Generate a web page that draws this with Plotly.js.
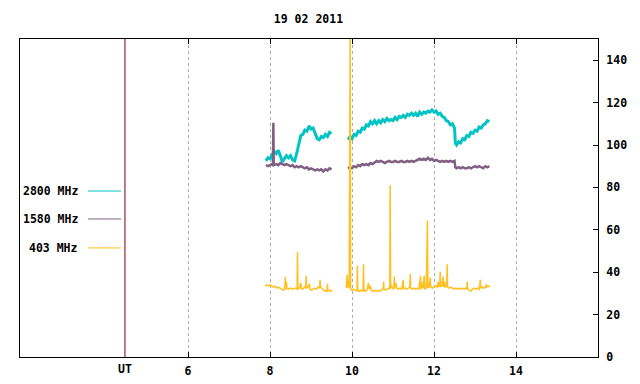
<!DOCTYPE html>
<html>
<head>
<meta charset="utf-8">
<script src="https://cdn.plot.ly/plotly-3.0.1.min.js"></script>
<style>html,body{margin:0;padding:0;background:#fff;}#chart{width:640px;height:384px;}</style>
</head>
<body>
<div id="chart"></div>
<script>
// ---- data (hours UT, flux) ----
const chartTitle = "19 02 2011";
const seriesNames = ["2800 MHz", "1580 MHz", "403 MHz"];
const seriesColors = ["#00c4c4", "#806080", "#ffc020"];
const xTickVals = [6, 8, 10, 12, 14];
const yTickVals = [0, 20, 40, 60, 80, 100, 120, 140];
const utHour = 4.46;

const t2800 = [7.90,7.95,8.00,8.05,8.10,8.15,8.20,8.25,8.30,8.35,8.40,8.45,8.50,8.55,8.60,8.65,8.70,8.75,8.80,8.85,8.90,8.95,9.00,9.05,9.10,9.15,9.20,9.25,9.30,9.35,9.40,9.45,9.50,
  null,
  9.90,9.95,10.00,10.05,10.10,10.15,10.20,10.25,10.30,10.35,10.40,10.45,10.50,10.55,10.60,10.65,10.70,10.75,10.80,10.85,10.90,10.95,11.00,11.05,11.10,11.15,11.20,11.25,11.30,11.35,11.40,11.45,11.50,11.55,11.60,11.65,11.70,11.75,11.80,11.85,11.90,11.95,12.00,12.05,12.10,12.15,12.20,12.25,12.30,12.35,12.40,12.45,12.50,12.52,12.55,12.60,12.65,12.70,12.75,12.80,12.85,12.90,12.95,13.00,13.05,13.10,13.15,13.20,13.25,13.30,13.35];
const v2800 = [92.5,94,93.5,95.5,97,96,97.5,95,92,93.5,95,94,95,93,92.5,96,100,104.5,105,107,106.5,109,107.5,108,105.5,103,102.5,104,103.5,105,104,106,105.5,
  null,
  102.5,104,103,105,104.5,106.5,106,108,107.5,109.5,109,111,110,111.5,110,111.5,110.5,112,111,112.5,111.5,112,111.5,113,112,113.5,113,114,113,114.5,114,115,114,115,113.5,115.5,114.5,115.5,115,116,115.5,116.5,115.5,116,114.5,115,113.5,113,111.5,111,109.5,110,108,101,100,101.5,101,103,102.5,104.5,104,106,105.5,107,106.5,108.5,108,109.5,110,111.5,111];

const t1580 = [7.90,7.95,8.00,8.05,8.07,8.08,8.09,8.15,8.20,8.25,8.30,8.35,8.40,8.45,8.50,8.55,8.60,8.65,8.70,8.75,8.80,8.85,8.90,8.95,9.00,9.05,9.10,9.15,9.20,9.25,9.30,9.35,9.40,9.45,9.50,
  null,
  9.90,9.95,10.00,10.05,10.10,10.15,10.20,10.25,10.30,10.35,10.40,10.45,10.50,10.55,10.60,10.65,10.70,10.75,10.80,10.85,10.90,10.95,11.00,11.05,11.10,11.15,11.20,11.25,11.30,11.35,11.40,11.45,11.50,11.55,11.60,11.65,11.70,11.75,11.80,11.85,11.90,11.95,12.00,12.05,12.10,12.15,12.20,12.25,12.30,12.35,12.40,12.45,12.50,12.52,12.55,12.60,12.65,12.70,12.75,12.80,12.85,12.90,12.95,13.00,13.05,13.10,13.15,13.20,13.25,13.30,13.35];
const v1580 = [90.5,90,90.5,91,90.5,110.5,90.5,91,90.5,91.5,91,90.5,91,90.5,90,90.5,89.5,90,89.5,90,89.5,89,89.5,88.5,89,88.5,88,88.5,88,88.5,87.5,88.5,88,89,88.5,
  null,
  89,89.5,89,90,89.5,90.5,90,91,90.5,91,90.5,91.5,91,92,92.5,92,92.5,92,91.5,92,92.5,92,92,92.5,92,92,92.5,92,92,92.5,92,92.5,92,92.5,93,93.5,93,93.5,93,94,93,93.5,92.5,93,92.5,92,92.5,92,92.5,92,92.5,92,92.5,89.5,89,89.5,89,89.5,89,89,89.5,89,89.5,90,89.5,90,89.5,89,90,89.5,90];

const t403 = [7.88,7.92,7.96,8.00,8.04,8.08,8.12,8.16,8.20,8.24,8.28,8.32,8.36,8.37,8.38,8.40,8.41,8.45,8.50,8.55,8.60,8.66,8.67,8.68,8.72,8.75,8.76,8.80,8.84,8.87,8.88,8.89,8.93,8.96,8.97,9.01,9.05,9.09,9.13,9.17,9.21,9.22,9.23,9.27,9.31,9.35,9.39,9.40,9.41,9.45,9.49,9.52,
  null,
  9.86,9.88,9.89,9.91,9.93,9.945,9.955,9.965,10.00,10.04,10.08,10.12,10.13,10.14,10.18,10.22,10.27,10.28,10.29,10.33,10.37,10.40,10.42,10.45,10.47,10.51,10.55,10.59,10.63,10.67,10.71,10.76,10.77,10.78,10.82,10.86,10.90,10.92,10.93,10.94,10.96,10.98,11.02,11.03,11.04,11.07,11.09,11.13,11.17,11.21,11.25,11.26,11.30,11.34,11.38,11.41,11.42,11.43,11.47,11.51,11.55,11.59,11.63,11.67,11.68,11.72,11.73,11.76,11.77,11.81,11.84,11.85,11.88,11.91,11.92,11.96,12.00,12.04,12.08,12.10,12.11,12.14,12.15,12.16,12.19,12.22,12.23,12.26,12.27,12.31,12.32,12.33,12.37,12.41,12.45,12.49,12.53,12.57,12.61,12.65,12.69,12.73,12.77,12.80,12.81,12.82,12.86,12.90,12.94,12.98,13.02,13.06,13.10,13.13,13.14,13.18,13.22,13.26,13.28,13.29,13.33,13.36];
const v403 = [33.5,34,33.5,34,33.5,33,33.5,32.5,33,32.5,32,31.5,32,37.8,32,35.5,32.5,32,32.5,32,32.5,32,49.7,32,32.5,35,32.5,32,33,32.5,38.3,32.5,33,34.5,32,31.5,32,32.5,32,33,32.5,36.4,33,32,31.5,31,31.5,34.5,31,31.5,31,31.5,
  null,
  32.5,38.8,33,36,32.5,160,160,32,31.5,32,31.5,31,43,31.5,31,31.5,31,43.8,31.5,31,32,34.9,32,33.5,31.5,31,31.5,31,31.5,31,31.5,32,35.5,32,31.5,32,32.5,32,81,32.5,34,32.5,32,37.9,32.5,35,32.5,32,32.5,32,36.4,32,32.5,32,32.5,33,39.1,32.5,32,32.5,32,32.5,32,38.2,32,35,32.5,38.3,32,32.5,64.4,32.5,33,37.4,33,32.5,33,33.5,33,35.5,33,33.5,40.2,33,33.5,37.9,33,35.5,33,33.5,43.8,33,32.5,33,32.5,32,32.5,32,32.5,32,32.5,32,32.5,32,35.5,32,31.5,31,32,32.5,32,32.5,32,36.4,32.5,33,32.5,33,34.3,33,33.5,33];

const xs = [t2800, t1580, t403];
const ys = [v2800, v1580, v403];
const plotWidths = [3, 2.5, 1.5];

const fontFam = "DejaVu Sans Mono, Liberation Mono, monospace";
const baseFont = {family: fontFam, size: 11.5, color: "#000", weight: "bold"};

const traces = xs.map((x, i) => ({
  type: "scatter", mode: "lines", x: x, y: ys[i], name: seriesNames[i],
  line: {color: seriesColors[i], width: plotWidths[i]}, connectgaps: false,
  showlegend: false, hoverinfo: "skip"
}));

// custom legend (text left of line), placed in paper coords
const legY = [0.522, 0.434, 0.343];
const annotations = seriesNames.map((n, i) => ({
  xref: "paper", yref: "paper", x: 0.1038, y: legY[i], text: n,
  showarrow: false, xanchor: "right", yanchor: "middle", font: baseFont
}));
annotations.push({xref: "x", yref: "paper", x: utHour, y: 0, yshift: -3, text: "UT",
  showarrow: false, xanchor: "center", yanchor: "top", font: baseFont});

const shapes = seriesNames.map((n, i) => ({
  type: "line", xref: "paper", yref: "paper", x0: 0.1176, x1: 0.1747, y0: legY[i], y1: legY[i],
  line: {color: seriesColors[i], width: 1}
}));
shapes.push({type: "line", xref: "x", yref: "paper", x0: utHour, x1: utHour, y0: 0, y1: 1,
  line: {color: "#7a0000", width: 1}});

const layout = {
  width: 640, height: 384,
  margin: {l: 20, r: 42, t: 39, b: 27, pad: 0},
  paper_bgcolor: "#fff", plot_bgcolor: "#fff",
  showlegend: false,
  title: {text: chartTitle, font: baseFont, x: 0.482, xanchor: "center", y: 1 - 19/384, yanchor: "middle", yref: "container"},
  xaxis: {
    range: [1.9, 16.0], tickvals: xTickVals, ticktext: xTickVals.map(String),
    ticks: "inside", ticklen: 5, tickwidth: 1, tickcolor: "#000",
    showline: true, linecolor: "#000", linewidth: 1, mirror: "ticks",
    showgrid: true, gridcolor: "#aaaaaa", gridwidth: 1, griddash: "3px,3px",
    zeroline: false, tickfont: baseFont, ticklabelstandoff: 3, fixedrange: true
  },
  yaxis: {
    range: [0, 150], tickvals: yTickVals, side: "right",
    ticks: "inside", ticklen: 5, tickwidth: 1, tickcolor: "#000",
    showline: true, linecolor: "#000", linewidth: 1, mirror: true,
    showgrid: false, zeroline: false, tickfont: baseFont, ticklabelstandoff: 5, fixedrange: true
  },
  annotations: annotations,
  shapes: shapes
};

Plotly.newPlot("chart", traces, layout, {displayModeBar: false, staticPlot: true});
</script>
</body>
</html>
